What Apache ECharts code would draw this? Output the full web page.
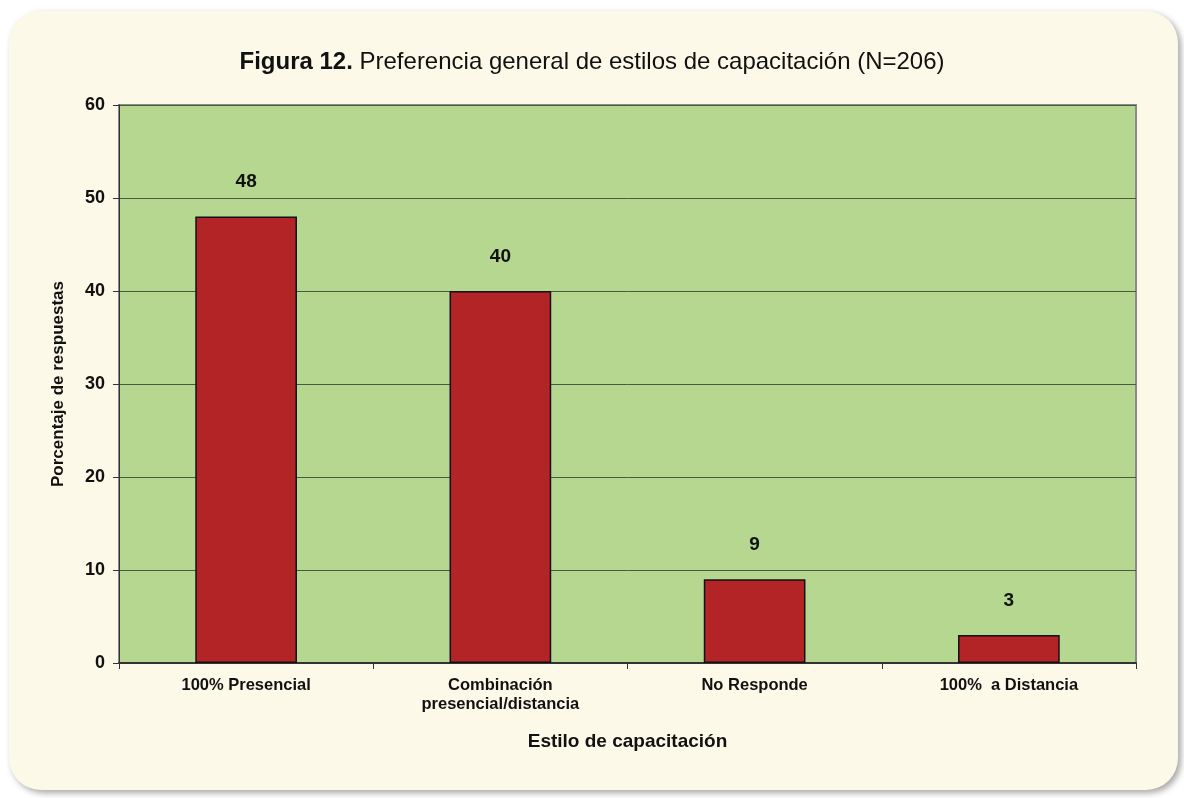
<!DOCTYPE html>
<html>
<head>
<meta charset="utf-8">
<script src="https://cdn.jsdelivr.net/npm/echarts@6/dist/echarts.min.js"></script>
<style>
html, body { margin: 0; padding: 0; background: #ffffff; }
#main { width: 1184px; height: 798px; }
</style>
</head>
<body>
<div id="main"></div>
<script>
// 数据
var categories = ['100% Presencial', 'Combinación\npresencial/distancia', 'No Responde', '100%  a Distancia'];
var values = [48, 40, 9, 3];
var yTicks = [0, 10, 20, 30, 40, 50, 60];

var myChart = echarts.init(document.getElementById('main'));

var option = {
	backgroundColor: '#ffffff',
	textStyle: {
		fontFamily: 'Liberation Sans, Arial, sans-serif'
	},
	// 奶油色圆角底板
	graphic: [{
		type: 'rect',
		z: -10,
		shape: { x: 9, y: 11, width: 1169, height: 779, r: 32 },
		style: {
			fill: '#fdf9e9',
			shadowBlur: 6,
			shadowOffsetX: 3,
			shadowOffsetY: 3,
			shadowColor: 'rgba(0,0,0,0.35)'
		}
	}],
	title: {
		left: 'center',
		top: 45,
		text: '{b|Figura 12.} Preferencia general de estilos de capacitación (N=206)',
		textStyle: {
			fontSize: 24,
			fontWeight: 'normal',
			color: '#111',
			rich: {
				b: { fontSize: 24, fontWeight: 'bold', color: '#111' }
			}
		}
	},
	grid: {
		left: 119,
		right: 48,
		top: 105,
		bottom: 135,
		show: true,
		backgroundColor: '#b5d78f',
		borderColor: '#8a8a8a',
		borderWidth: 2
	},
	xAxis: {
		type: 'category',
		data: categories,
		name: 'Estilo de capacitación',
		nameLocation: 'middle',
		nameGap: 69,
		nameTextStyle: { fontSize: 19, fontWeight: 'bold', color: '#111' },
		axisLine: { lineStyle: { color: '#333', width: 2 } },
		axisTick: { show: true, length: 6, lineStyle: { color: '#333' } },
		axisLabel: { fontSize: 16.5, fontWeight: 'bold', color: '#111', margin: 13, lineHeight: 19 }
	},
	yAxis: {
		type: 'value',
		min: yTicks[0],
		max: yTicks[yTicks.length - 1],
		interval: 10,
		name: 'Porcentaje de respuestas',
		nameLocation: 'middle',
		nameGap: 52,
		nameTextStyle: { fontSize: 17, fontWeight: 'bold', color: '#111' },
		axisLine: { show: true, lineStyle: { color: '#333', width: 1 } },
		axisTick: { show: true, length: 6, lineStyle: { color: '#333' } },
		axisLabel: { fontSize: 18, fontWeight: 'bold', color: '#111', margin: 14 },
		splitLine: { show: true, lineStyle: { color: '#4a5a40', width: 1 } }
	},
	series: [{
		type: 'bar',
		data: values,
		barWidth: '40%',
		itemStyle: {
			color: '#b22425',
			borderColor: '#111',
			borderWidth: 1.5
		},
		label: {
			show: true,
			position: 'top',
			distance: 25,
			fontSize: 19,
			fontWeight: 'bold',
			color: '#111'
		}
	}]
};

myChart.setOption(option);
</script>
</body>
</html>
